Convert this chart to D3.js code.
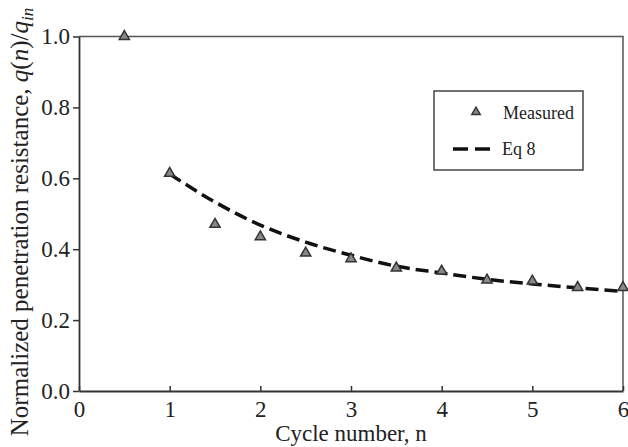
<!DOCTYPE html>
<html>
<head>
<meta charset="utf-8">
<script src="https://cdn.jsdelivr.net/npm/d3@7"></script>
<style>
  body { margin: 0; background: #fff; }
  svg text { font-family: "Liberation Serif", "Times New Roman", serif; fill: #222; }
</style>
</head>
<body>
<svg width="628" height="447"></svg>
<script>
// measured points
const measuredN = [0.5, 1, 1.5, 2, 2.5, 3, 3.5, 4, 4.5, 5, 5.5, 6]
const measuredQ = [1.0, 0.614, 0.47, 0.435, 0.389, 0.373, 0.347, 0.338, 0.313, 0.31, 0.292, 0.292]

// Eq 8 curve
const eqN = [1, 1.5, 2, 2.5, 3, 3.5, 4, 4.5, 5, 5.5, 6]
const eqQ = [0.612, 0.533, 0.468, 0.42, 0.383, 0.352, 0.333, 0.315, 0.302, 0.291, 0.281]

const xTicks = [0, 1, 2, 3, 4, 5, 6]
const yTicks = [0, 0.2, 0.4, 0.6, 0.8, 1.0]

const svg = d3.select('svg')
const margin = {top: 36.5, right: 5, bottom: 56, left: 79}
const width = +svg.attr('width') - margin.left - margin.right
const height = +svg.attr('height') - margin.top - margin.bottom
const g = svg.append('g').attr('transform', 'translate(' + margin.left + ',' + margin.top + ')')

const x = d3.scaleLinear().domain([0, 6]).range([0, width])
const y = d3.scaleLinear().domain([0, 1]).range([height, 0])

// frame (top + right)
g.append('path')
  .attr('d', `M0,0H${width}V${height}`)
  .attr('fill', 'none')
  .attr('stroke', '#555')
  .attr('stroke-width', 1.5)

// x axis, ticks inward
const xAxis = g.append('g')
  .attr('transform', 'translate(0,' + height + ')')
  .call(d3.axisBottom(x).tickValues(xTicks).tickSizeInner(-5).tickSizeOuter(0).tickFormat(d3.format('d')))
xAxis.select('.domain').attr('stroke', '#333').attr('stroke-width', 1.8)
xAxis.selectAll('.tick line').attr('stroke', '#333').attr('stroke-width', 1.5)
xAxis.selectAll('.tick text')
  .attr('y', 10).attr('dy', '0.71em')
  .style('font-size', '23px')

// y axis, ticks outward
const yAxis = g.append('g')
  .call(d3.axisLeft(y).tickValues(yTicks).tickSize(6).tickSizeOuter(0).tickPadding(3).tickFormat(d3.format('.1f')))
yAxis.select('.domain').attr('stroke', '#333').attr('stroke-width', 1.8)
yAxis.selectAll('.tick line').attr('stroke', '#333').attr('stroke-width', 1.5)
yAxis.selectAll('.tick text').style('font-size', '23px')

// axis titles
svg.append('text')
  .attr('x', margin.left + width / 2)
  .attr('y', 441)
  .attr('text-anchor', 'middle')
  .style('font-size', '23px')
  .text('Cycle number, n')

const yt = svg.append('text')
  .attr('transform', 'translate(28,222) rotate(-90)')
  .attr('text-anchor', 'middle')
  .style('font-size', '25px')
yt.append('tspan').text('Normalized penetration resistance, ')
yt.append('tspan').style('font-style', 'italic').text('q')
yt.append('tspan').text('(')
yt.append('tspan').style('font-style', 'italic').text('n')
yt.append('tspan').text(')/')
yt.append('tspan').style('font-style', 'italic').text('q')
yt.append('tspan').style('font-style', 'italic').style('font-size', '17px').attr('dy', 5).text('in')

// Eq 8 dashed line
const eqData = eqN.map((n, i) => ({n, q: eqQ[i]}))
const line = d3.line()
  .x(d => x(d.n))
  .y(d => y(d.q))
  .curve(d3.curveMonotoneX)
g.append('path')
  .datum(eqData)
  .attr('fill', 'none')
  .attr('stroke', '#111')
  .attr('stroke-width', 3.5)
  .attr('stroke-dasharray', '13,6')
  .attr('d', line)

// measured triangles
const tri = d3.symbol().type(d3.symbolTriangle).size(45)
const mData = measuredN.map((n, i) => ({n, q: measuredQ[i]}))
g.selectAll('.pt')
  .data(mData)
  .enter().append('path')
  .attr('class', 'pt')
  .attr('transform', d => 'translate(' + x(d.n) + ',' + y(d.q) + ')')
  .attr('d', tri)
  .attr('fill', '#888')
  .attr('stroke', '#333')
  .attr('stroke-width', 1.5)

// legend
const lg = svg.append('g').attr('transform', 'translate(434,91)')
lg.append('rect')
  .attr('width', 149).attr('height', 79)
  .attr('fill', '#fff')
  .attr('stroke', '#444')
  .attr('stroke-width', 1.5)
lg.append('path')
  .attr('transform', 'translate(42,21)')
  .attr('d', d3.symbol().type(d3.symbolTriangle).size(30))
  .attr('fill', '#888')
  .attr('stroke', '#333')
  .attr('stroke-width', 1.5)
lg.append('text').attr('x', 69).attr('y', 28).style('font-size', '18px').text('Measured')
lg.append('line')
  .attr('x1', 19).attr('x2', 60).attr('y1', 58).attr('y2', 58)
  .attr('stroke', '#111').attr('stroke-width', 3.5)
  .attr('stroke-dasharray', '15,7')
lg.append('text').attr('x', 68).attr('y', 64).style('font-size', '18px').text('Eq 8')
</script>
</body>
</html>
